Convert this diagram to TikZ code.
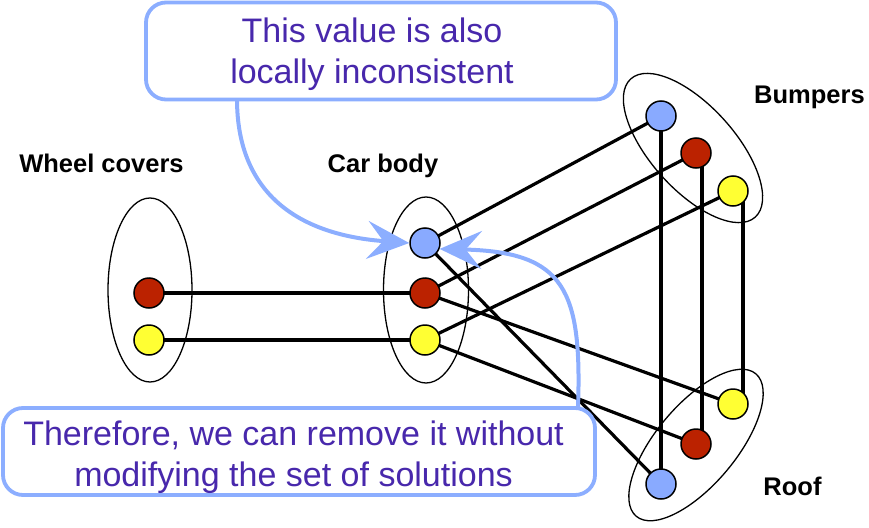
\documentclass[tikz,border=0pt]{standalone}
\usepackage{fontspec}
\setmainfont{Liberation Sans}
\usetikzlibrary{shapes.geometric,arrows.meta,backgrounds}
\definecolor{cblue}{RGB}{137,170,255}
\definecolor{cred}{RGB}{187,34,0}
\definecolor{cyellow}{RGB}{255,255,51}
\definecolor{cbox}{RGB}{140,174,255}
\definecolor{ctext}{RGB}{72,40,172}
\tikzset{
  val/.style={circle,draw=black,line width=1.5pt,minimum size=30pt,inner sep=0pt},
  vb/.style={val,fill=cblue},
  vr/.style={val,fill=cred},
  vy/.style={val,fill=cyellow},
  edgeline/.style={line width=3.2pt,black},
  domainell/.style={ellipse,draw=black,line width=1.3pt,inner sep=0pt},
  lab/.style={font=\fontsize{25.5pt}{30pt}\selectfont\bfseries,anchor=base,inner sep=0pt},
  callbox/.style={draw=cbox,line width=3.8pt,rounded corners=20pt,fill=white,inner sep=0pt},
  calltext/.style={font=\fontsize{34pt}{40pt}\selectfont,text=ctext,anchor=base,inner sep=0pt},
  callarrow/.style={draw=cbox,line width=4pt,-{Stealth[length=42pt,width=38pt,inset=16pt]}}
}
\begin{document}
\begin{tikzpicture}[x=1pt,y=-1pt]
\useasboundingbox (0,0) rectangle (869,527);
% domains
\node[domainell,minimum width=84pt,minimum height=184pt] (dw) at (150,290) {};
\node[domainell,minimum width=85pt,minimum height=186pt] (dc) at (426,290) {};
\node[domainell,minimum width=186pt,minimum height=84pt,rotate=-48] (db) at (693,148) {};
\node[domainell,minimum width=186pt,minimum height=80pt,rotate=50] (dr) at (696,445) {};
% values
\node[vr] (wr) at (149,293) {};
\node[vy] (wy) at (149,340) {};
\node[vb] (cb) at (425,243) {};
\node[vr] (cr) at (425,293) {};
\node[vy] (cy) at (425,340) {};
\node[vb] (bb) at (661,116) {};
\node[vr] (br) at (696,153) {};
\node[vy] (by) at (733,191) {};
\node[vb] (rb) at (661,484) {};
\node[vr] (rr) at (696,444) {};
\node[vy] (ry) at (733,404) {};
% edges
\begin{scope}[on background layer]
\draw[edgeline] (wr.center) -- (cr.center);
\draw[edgeline] (wy.center) -- (cy.center);
\draw[edgeline] (cb.center) -- (bb.center);
\draw[edgeline] (cr.center) -- (br.center);
\draw[edgeline] (cy.center) -- (by.center);
\draw[edgeline] (cb.center) -- (rb.center);
\draw[edgeline] (cr.center) -- (ry.center);
\draw[edgeline] (cy.center) -- (rr.center);
\draw[edgeline] (bb.center) -- (rb.center);
\draw[edgeline] ([xshift=6pt]br.center) -- ([xshift=6pt]rr.center);
\draw[edgeline] ([xshift=10pt]by.center) -- ([xshift=10pt]ry.center);
\end{scope}
% labels
\node[lab] (lw) at (101.5,172) {Wheel covers};
\node[lab] (lc) at (383,172) {Car body};
\node[lab] (lb) at (809.5,103) {Bumpers};
\node[lab] (lr) at (792.5,495) {Roof};
% callouts
\node[callbox,minimum width=470pt,minimum height=97pt] (topbox) at (381,51) {};
\node[calltext] (t1) at (372,43) {This value is also};
\node[calltext] (t2) at (372,83) {locally inconsistent};
\node[callbox,minimum width=592pt,minimum height=87pt] (botbox) at (299,451.5) {};
\node[calltext] (b1) at (293.5,445) {Therefore, we can remove it without};
\node[calltext] (b2) at (293.5,486) {modifying the set of solutions};
\coordinate (s1) at (237,99);
\coordinate (s2) at (578,408);
\draw[callarrow] (s1) .. controls (237,195) and (300,235) .. (cb.west);
\draw[callarrow] (s2) .. controls (582,290) and (565,252) .. (cb.-22);
\end{tikzpicture}
\end{document}
